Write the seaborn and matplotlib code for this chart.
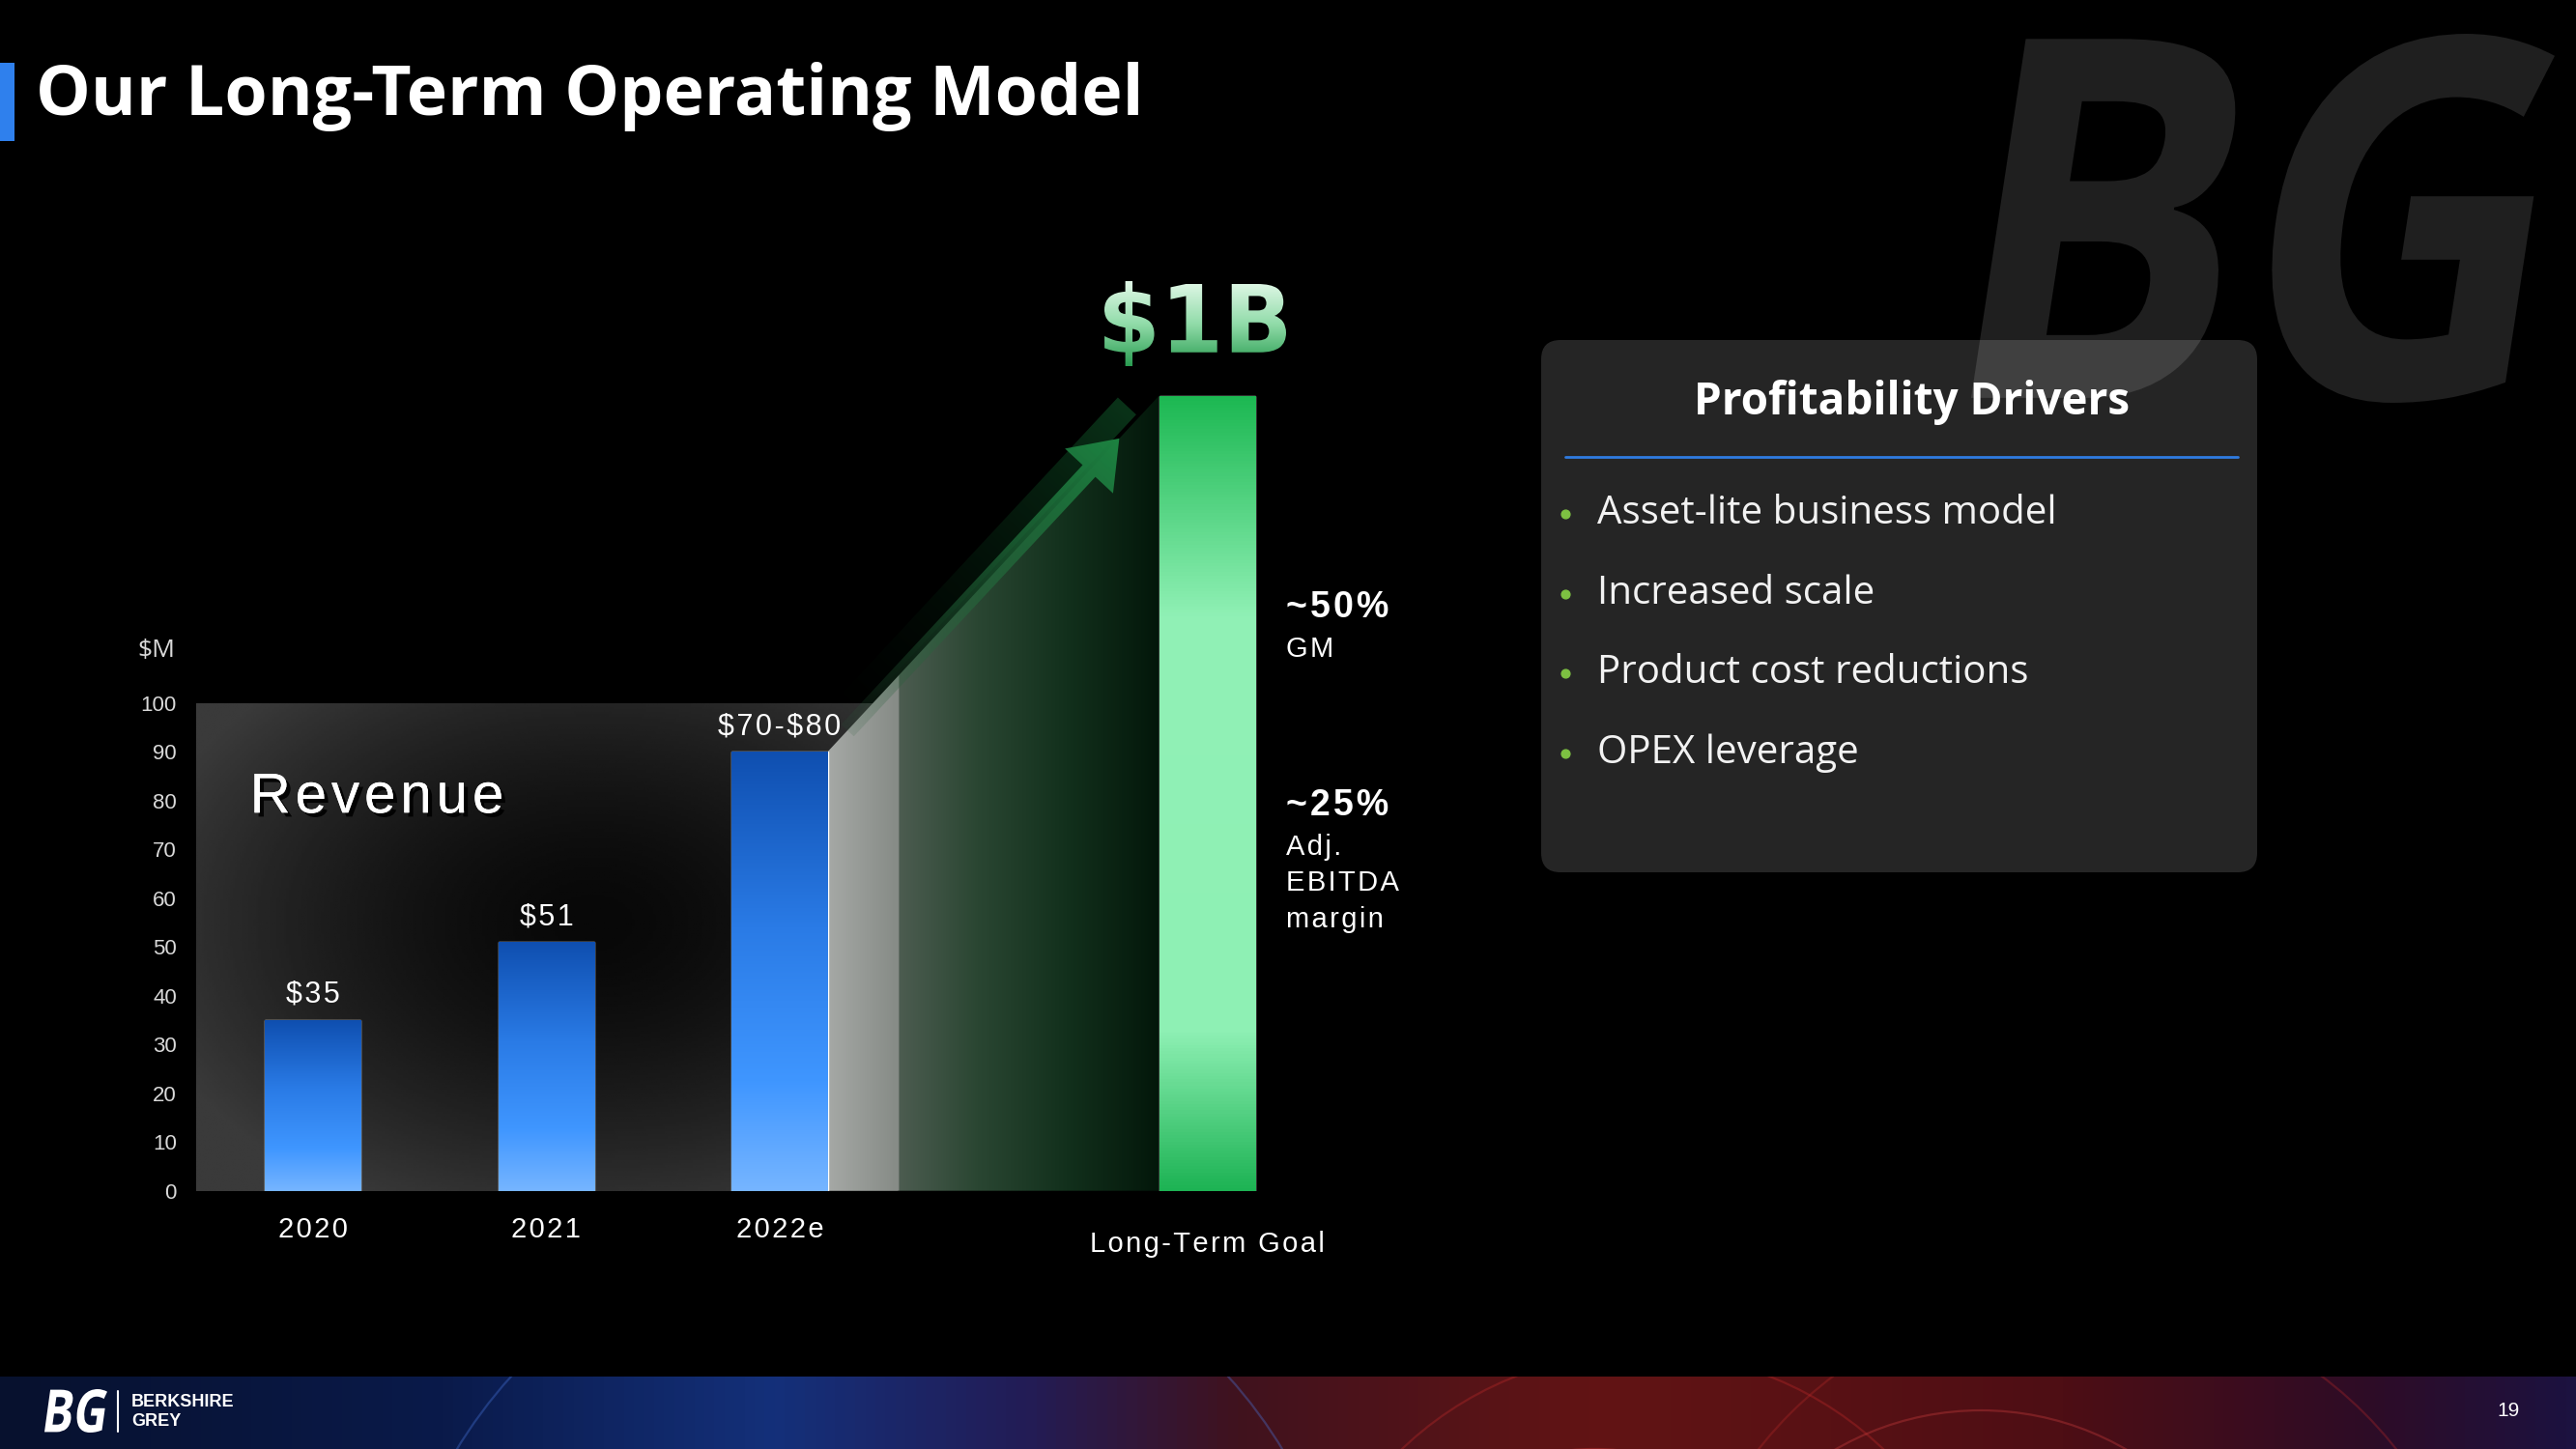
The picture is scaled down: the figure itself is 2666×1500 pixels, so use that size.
import numpy as np
import pandas as pd
import seaborn as sns
import matplotlib.pyplot as plt
import matplotlib.patheffects as pe
from matplotlib.colors import LinearSegmentedColormap, to_rgb
from matplotlib.patches import Polygon, FancyBboxPatch, PathPatch, Rectangle, Arc
from matplotlib.textpath import TextPath
from matplotlib.font_manager import FontProperties
from matplotlib.transforms import Affine2D, blended_transform_factory

W, H = 2666, 1500

# ---- values ----
years = ["2020", "2021", "2022e"]
revenue = [35, 51, 90]            # $M; 2022e bar drawn to 90 (guidance $70-$80)
bar_labels = ["$35", "$51", "$70-$80"]
goal_name = "Long-Term Goal"
goal_text = "$1B"
goal_height = 163                 # illustrative, not on the $M scale
y_ticks = list(range(0, 101, 10))
margin_values = ["~50%", "~25%"]
margin_names = ["GM", "Adj.\nEBITDA\nmargin"]
margin_levels = [119.5, 79]
drivers = ["Asset-lite business model", "Increased scale",
           "Product cost reductions", "OPEX leverage"]

sns.set_style("dark", {"axes.facecolor": "none", "figure.facecolor": "black"})
NARROW = ["Liberation Sans Narrow", "Liberation Sans", "DejaVu Sans"]
HEAD = ["Open Sans", "DejaVu Sans"]
plt.rcParams["font.family"] = NARROW


def spaced(s):
    # hair spaces for the letter-spaced chart labels; escape $ so no mathtext
    return "\u200a".join(s).replace("$", r"\$")


def cmap(*stops):
    return LinearSegmentedColormap.from_list("g", list(stops))


def fit_path(path, x0, y0, x1, y1):
    # stretch a path onto a pixel box (y pointing down)
    e = path.get_extents()
    t = (Affine2D().translate(-e.x0, -e.y0)
         .scale((x1 - x0) / e.width, -(y1 - y0) / e.height)
         .translate(x0, y1))
    return t.transform_path(path)


fig = plt.figure(figsize=(W / 100, H / 100), dpi=100)
fig.patch.set_facecolor("black")

# background layer: watermark, panel, title, footer
bg = fig.add_axes([0, 0, 1, 1], zorder=0)
bg.axis("off")

wm = TextPath((0, 0), "BG", size=100, prop=FontProperties(family=HEAD, weight="bold"))
wm = Affine2D().skew_deg(10, 0).transform_path(wm)
bg.add_patch(PathPatch(fit_path(wm, 2040, 35, 2644, 417), fc="#1f1f1f", ec="none"))

bg.add_patch(FancyBboxPatch((1595, 352), 741, 551, boxstyle="round,pad=0,rounding_size=20",
                            fc="white", alpha=0.15, ec="none"))
bg.text(1979, 417, "Profitability Drivers", family=HEAD, fontsize=33, fontweight="bold",
        color="white", ha="center", va="center")
bg.plot([1620, 2316], [473, 473], color="#2f7be0", lw=2)
for i, d in enumerate(drivers):
    yy = 532 + i * 82.5
    bg.scatter([1620], [yy], s=40, color="#7dc142", zorder=3)
    bg.text(1653, yy, d, family=HEAD, fontsize=29, color="#f2f2f2", va="center")

bg.add_patch(Rectangle((0, 65), 15, 81, fc="#2f80ed", ec="none"))
bg.text(37, 100, "Our Long-Term Operating Model", family=HEAD, fontsize=51.5,
        fontweight="bold", color="white", va="center")

foot = cmap((0, "#07112e"), (0.17, "#0a1a4a"), (0.3, "#14307a"), (0.4, "#231c55"),
            (0.48, "#40121e"), (0.62, "#621414"), (0.8, "#4e0e14"), (0.92, "#2e0c26"),
            (1, "#1c1240"))
bg.imshow(np.linspace(0, 1, 512)[None, :], cmap=foot, extent=(0, W, H, 1425),
          aspect="auto", zorder=1)
band = Rectangle((0, 1425), W, 75, fc="none", ec="none")
bg.add_patch(band)
for cx, rad, col in [(1650, 260, "#d03a3a"), (1700, 360, "#c02a2a"), (2050, 300, "#d04040"),
                     (2150, 420, "#b02828"), (1450, 200, "#c23030"), (900, 500, "#4a78e0")]:
    a = Arc((cx, 1760), 2 * rad, 2 * rad, theta1=180, theta2=360, color=col, lw=1.6,
            alpha=0.35, zorder=1)
    bg.add_patch(a)
    a.set_clip_path(band)
logo = TextPath((0, 0), "BG", size=100, prop=FontProperties(family=HEAD, weight="bold"))
logo = Affine2D().skew_deg(10, 0).transform_path(logo)
bg.add_patch(PathPatch(fit_path(logo, 46, 1438, 111, 1483), fc="white", ec="none", zorder=2))
bg.plot([122, 122], [1440, 1482], color="white", lw=1.5, zorder=2)
bg.text(136, 1451, "BERKSHIRE", fontsize=13, fontweight="bold", color="white", va="center", zorder=2)
bg.text(136, 1472, "GREY", fontsize=13, fontweight="bold", color="white", va="center", zorder=2)
bg.text(2596, 1460, "19", fontsize=15, color="white", ha="center", va="center", zorder=2)
bg.set_xlim(0, W)
bg.set_ylim(H, 0)

# chart layer
ax = fig.add_axes([0.0759, 0.1782, 0.4343, 0.6396], zorder=1)
x_pos = list(range(len(years))) + [len(years) + 0.83]
df = pd.DataFrame({"x": x_pos, "value": revenue + [goal_height]})
sns.barplot(data=df, x="x", y="value", native_scale=True, width=0.41, color="#2a7fe8",
            saturation=1, ax=ax, zorder=3)
bars = list(ax.patches)
bar_w = bars[0].get_width()

blue = cmap((0, "#76b5ff"), (0.25, "#3f96ff"), (0.6, "#2a7be6"), (1, "#0f4fb0"))
green = cmap((0, "#1db354"), (0.2, "#8ef0b4"), (0.72, "#91f1b6"), (1, "#1cb852"))
ramp = np.linspace(0, 1, 256)[:, None]
for i, b in enumerate(bars):
    x0, w, h = b.get_x(), b.get_width(), b.get_height()
    im = ax.imshow(ramp, cmap=green if i == 3 else blue, origin="lower",
                   extent=(x0, x0 + w, 0, h), aspect="auto", zorder=4)
    im.set_clip_path(b)

# dark glow backdrop behind the revenue bars
left, right, top = -0.5, x_pos[2] + bar_w / 2 + 0.3, y_ticks[-1]
gx, gy = np.meshgrid(np.linspace(left, right, 300), np.linspace(0, top, 200))
dist = np.clip(np.hypot((gx - 1.2) / 2.0, (gy - 55) / 65), 0, 1)
ax.imshow((8 + 50 * dist ** 1.6) / 255, cmap="gray", vmin=0, vmax=1, origin="lower",
          extent=(left, right, 0, top), aspect="auto", zorder=1)

# fading wedge from 2022e up to the goal bar
x_a, x_b = x_pos[2] + bar_w / 2, x_pos[3] - bar_w / 2
trap = Polygon([(x_a, 0), (x_a, revenue[2]), (x_b, goal_height), (x_b, 0)],
               closed=True, fc="none", ec="none")
ax.add_patch(trap)
r = (right - x_a) / (x_b - x_a)
fade = cmap((0, "#a5a8a5"), (r - 0.002, "#868b86"), (r + 0.002, "#4c5c50"),
            (0.45, "#2a4632"), (0.72, "#12301c"), (1, "#03170a"))
im = ax.imshow(np.linspace(0, 1, 400)[None, :], cmap=fade,
               extent=(x_a, x_b, 0, goal_height), aspect="auto", zorder=2)
im.set_clip_path(trap)

for xp, v, lab in zip(x_pos, revenue, bar_labels):
    ax.annotate(spaced(lab), (xp, v), xytext=(0, 8), textcoords="offset points",
                ha="center", va="bottom", fontsize=22, color="white", zorder=6)

ax.text(-0.27, 80.5, spaced("Revenue"), fontsize=42, color="white", va="center", zorder=6,
        path_effects=[pe.withSimplePatchShadow(offset=(3, -3), shadow_rgbFace="black", alpha=0.9),
                      pe.Normal()])

mx = x_pos[3] + bar_w / 2 + 0.135
for val, name, lvl in zip(margin_values, margin_names, margin_levels):
    ax.text(mx, lvl, spaced(val), fontsize=27, fontweight="bold", color="white", va="center")
    ax.text(mx, lvl - 5.7, "\n".join(spaced(s) for s in name.split("\n")), fontsize=21,
            color="white", va="top", linespacing=1.45)

ax.text(-0.035, 110.8, r"\$M", transform=blended_transform_factory(ax.transAxes, ax.transData),
        family=HEAD, fontsize=19, color="#d9d9d9", ha="center", va="center")
ax.annotate(spaced(goal_name), (x_pos[3], 0), xytext=(0, -40), textcoords="offset points",
            ha="center", va="center", fontsize=21, color="white")

ax.set_xticks(x_pos[:3])
ax.set_xticklabels([spaced(y) for y in years])
ax.set_yticks(y_ticks)
ax.tick_params(axis="x", length=0, pad=19, labelsize=21, labelcolor="white")
ax.tick_params(axis="y", length=0, pad=14, labelsize=16, labelcolor="#d9d9d9")
ax.set_xlabel("")
ax.set_ylabel("")
ax.grid(False)
sns.despine(ax=ax, left=True, bottom=True)
ax.set_xlim(-0.503, 4.29)
ax.set_ylim(0, 190)

# overlay layer: growth arrow and the $1B headline
ov = fig.add_axes([0, 0, 1, 1], zorder=2)
ov.axis("off")
ov.set_facecolor("none")


def to_px(x, y):
    dx, dy = ax.transData.transform((x, y))
    return np.array([dx, H - dy])


def along(t):
    return x_a + t * (x_b - x_a), revenue[2] + t * (goal_height - revenue[2])


def grad_patch(axis, verts, p0, p1, c0, c1, a0, a1, z):
    poly = Polygon(verts, closed=True, fc="none", ec="none")
    axis.add_patch(poly)
    vs = np.array(verts)
    xmin, ymin = vs.min(axis=0)
    xmax, ymax = vs.max(axis=0)
    X, Y = np.meshgrid(np.linspace(xmin, xmax, 300), np.linspace(ymin, ymax, 300))
    d = p1 - p0
    t = np.clip(((X - p0[0]) * d[0] + (Y - p0[1]) * d[1]) / (d @ d), 0, 1)
    rgba = np.zeros(X.shape + (4,))
    for k in range(3):
        rgba[..., k] = c0[k] + (c1[k] - c0[k]) * t
    rgba[..., 3] = a0 + (a1 - a0) * t
    img = axis.imshow(rgba, extent=(xmin, xmax, ymax, ymin), origin="upper",
                      aspect="auto", zorder=z, interpolation="bilinear")
    img.set_clip_path(poly)


p0 = to_px(*along(0.06))
p1 = to_px(*along(0.88))
u = (p1 - p0) / np.linalg.norm(p1 - p0)
n = np.array([-u[1], u[0]])
hw, hh, hl = 9, 34, 46
pb = p1 - u * hl
glow = [p0 - n * 4, p1 + u * 30 - n * 4, p1 + u * 30 - n * 30, p0 - n * 30]
grad_patch(ov, glow, p0, p1 + u * 30, to_rgb("#03140a"), to_rgb("#0c3c1d"), 0.0, 0.85, 2)
arrow = [p0 + n * hw, pb + n * hw, pb + n * hh, p1, pb - n * hh, pb - n * hw, p0 - n * hw]
grad_patch(ov, arrow, p0, p1, to_rgb("#2a5a3a"), to_rgb("#1d8442"), 0.15, 1.0, 3)

head = TextPath((0, 0), goal_text, size=100, prop=FontProperties(family="DejaVu Sans", weight="bold"))
head = fit_path(head, 1143, 291, 1331, 379)
hp = PathPatch(head, fc="none", ec="none")
ov.add_patch(hp)
hi = ov.imshow(np.linspace(0, 1, 256)[:, None],
               cmap=cmap((0, "#e2f8e8"), (0.5, "#92dcaa"), (1, "#2a9d52")),
               extent=(1143, 1331, 379, 291), origin="upper", aspect="auto", zorder=4)
hi.set_clip_path(hp)
ov.set_xlim(0, W)
ov.set_ylim(H, 0)

fig.savefig("out.png", dpi=100, facecolor="black")
